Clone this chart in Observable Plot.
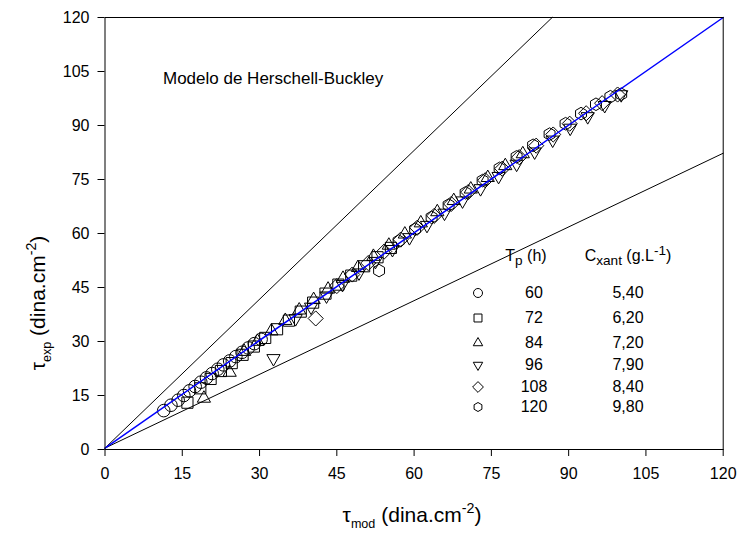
<!DOCTYPE html>
<html><head><meta charset="utf-8">
<script src="https://cdn.jsdelivr.net/npm/d3@7"></script>
<script src="https://cdn.jsdelivr.net/npm/@observablehq/plot@0.6"></script>
<style>
body{margin:0;background:#fff;font-family:"Liberation Sans",Arial,sans-serif;}
#wrap{position:relative;width:738px;height:535px;overflow:hidden;}
.lbl{position:absolute;white-space:nowrap;color:#000;line-height:1;}
.c{transform:translate(-50%,-50%);}
.sub{font-size:62%;position:relative;top:0.45em;}
.sup{font-size:62%;position:relative;top:-0.6em;}
</style></head><body><div id="wrap"></div>
<script>
// ---- data ----
const xTicks = [0, 15, 30, 45, 60, 75, 90, 105, 120];
const yTicks = [0, 15, 30, 45, 60, 75, 90, 105, 120];

const tp = ["60", "72", "84", "96", "108", "120"];
const cxant = ["5,40", "6,20", "7,20", "7,90", "8,40", "9,80"];

const s60x = [11.4, 12.8, 14.2, 15.3, 16.4, 17.5, 18.6, 19.7, 20.8, 21.9, 23.0, 24.2, 25.4, 26.6, 27.8, 29.0, 30.3];
const s60y = [10.8, 12.3, 13.7, 15.0, 16.3, 17.5, 18.7, 19.9, 21.1, 22.3, 23.5, 24.6, 25.8, 27.0, 28.2, 29.4, 30.6];

const s72x = [16.0, 18.5, 20.5, 22.5, 24.6, 26.7, 28.9, 31.1, 33.4, 35.7, 38.0, 40.4, 42.8, 45.3, 47.8, 50.3, 52.9, 55.5];
const s72y = [13.0, 17.0, 19.6, 21.8, 24.0, 26.3, 28.6, 31.0, 33.4, 35.8, 38.3, 40.8, 43.3, 45.8, 48.3, 50.9, 53.4, 56.0];

const s84x = [19.2, 24.2, 27.0, 29.6, 32.3, 35.0, 37.7, 40.5, 43.3, 46.2, 49.1, 52.1, 55.1, 58.2, 61.3, 64.5, 67.7, 71.0, 74.3, 77.7, 81.1];
const s84y = [14.2, 21.4, 27.2, 30.0, 32.9, 35.8, 38.7, 41.6, 44.5, 47.5, 50.5, 53.6, 56.7, 59.8, 62.9, 66.0, 69.1, 72.3, 75.5, 78.8, 82.1];

const s96x = [32.7, 37.0, 40.0, 43.0, 46.1, 49.3, 52.5, 55.8, 59.1, 62.5, 65.9, 69.4, 72.9, 76.4, 79.9, 83.4, 86.9, 90.3, 93.7, 97.0, 100.2];
const s96y = [25.3, 36.4, 39.6, 42.7, 45.9, 49.1, 52.3, 55.6, 58.9, 62.3, 65.7, 69.1, 72.5, 75.9, 79.3, 82.7, 86.0, 89.3, 92.5, 95.6, 98.6];

const s108x = [40.9, 45.0, 48.0, 51.1, 54.2, 57.4, 60.6, 63.9, 67.2, 70.5, 73.8, 77.1, 80.4, 83.7, 87.0, 90.2, 93.4, 96.5, 99.5];
const s108y = [36.4, 45.4, 48.6, 51.8, 55.0, 58.3, 61.6, 64.9, 68.2, 71.5, 74.8, 78.0, 81.2, 84.4, 87.5, 90.5, 93.4, 96.2, 98.6];

const s120x = [53.2, 57.0, 60.2, 63.4, 66.7, 70.0, 73.3, 76.6, 79.9, 83.1, 86.3, 89.4, 92.4, 95.3, 98.1, 100.2];
const s120y = [49.7, 57.9, 61.2, 64.5, 67.9, 71.3, 74.7, 78.1, 81.3, 84.5, 87.6, 90.5, 93.3, 95.9, 98.0, 98.7];

// fitted line (blue) and the two limit lines (black)
const fitX = [0, 120], fitY = [0.4, 120];
const upX = [0, 86.8], upY = [0.4, 120];
const loX = [0, 120], loY = [0.4, 82.3];

// ---- symbols ----
const rad = s => Math.sqrt(s / Math.PI);
const symCircle = {draw(c, s){const r = rad(s); c.moveTo(r, 0); c.arc(0, 0, r, 0, 2*Math.PI);}};
const symSquare = {draw(c, s){const h = rad(s)*0.885; c.rect(-h, -h, 2*h, 2*h);}};
const symTriUp = {draw(c, s){const a = rad(s)*2.1, h = a*0.866; c.moveTo(0, -2*h/3); c.lineTo(a/2, h/3); c.lineTo(-a/2, h/3); c.closePath();}};
const symTriDown = {draw(c, s){const a = rad(s)*2.1, h = a*0.866; c.moveTo(0, 2*h/3); c.lineTo(a/2, -h/3); c.lineTo(-a/2, -h/3); c.closePath();}};
const symDiamond = {draw(c, s){const d = rad(s)*1.2; c.moveTo(0, -d); c.lineTo(d, 0); c.lineTo(0, d); c.lineTo(-d, 0); c.closePath();}};
const symHex = {draw(c, s){const R = rad(s)*1.0; for (let k = 0; k < 6; k++){const t = -Math.PI/2 + k*Math.PI/3; const x = R*Math.cos(t), y = R*Math.sin(t); k ? c.lineTo(x, y) : c.moveTo(x, y);} c.closePath();}};

const series = [
  {x: s60x, y: s60y, sym: symCircle},
  {x: s72x, y: s72y, sym: symSquare},
  {x: s84x, y: s84y, sym: symTriUp},
  {x: s96x, y: s96y, sym: symTriDown},
  {x: s108x, y: s108y, sym: symDiamond},
  {x: s120x, y: s120y, sym: symHex}
];

const toRows = (xs, ys) => xs.map((x, i) => ({x, y: ys[i]}));

const dotMarks = series.map(s => Plot.dot(toRows(s.x, s.y), {
  x: "x", y: "y", r: 6.3, symbol: s.sym, stroke: "#000", strokeWidth: 1, fill: "none"
}));

const plot = Plot.plot({
  width: 738, height: 535,
  marginLeft: 104.5, marginRight: 15.3, marginTop: 17, marginBottom: 86,
  style: {fontFamily: "'Liberation Sans', Arial, sans-serif", fontSize: "16px", background: "white", color: "black", overflow: "visible"},
  x: {domain: [0, 120]},
  y: {domain: [0, 120]},
  marks: [
    ...dotMarks,
    Plot.line(toRows(upX, upY), {x: "x", y: "y", stroke: "#000", strokeWidth: 1}),
    Plot.line(toRows(loX, loY), {x: "x", y: "y", stroke: "#000", strokeWidth: 1}),
    Plot.line(toRows(fitX, fitY), {x: "x", y: "y", stroke: "#0000ff", strokeWidth: 1.5}),
    Plot.frame({stroke: "#000", strokeWidth: 1}),
    Plot.axisX({ticks: xTicks, tickSize: 7, tickPadding: 11, label: null, tickFormat: d => String(d), stroke: "#000"}),
    Plot.axisY({ticks: yTicks, tickSize: 7, tickPadding: 8.5, label: null, tickFormat: d => String(d), stroke: "#000"}),
    Plot.text(["Modelo de Herschell-Buckley"], {frameAnchor: "top-left", dx: 58, dy: 61, textAnchor: "start", lineAnchor: "middle", fontSize: 17, fill: "#000"})
  ]
});

const wrap = document.getElementById("wrap");
wrap.appendChild(plot);

function addLabel(html, left, top, size){
  const d = document.createElement("div");
  d.className = "lbl c";
  d.style.left = left + "px"; d.style.top = top + "px";
  d.style.fontSize = size + "px";
  d.innerHTML = html;
  wrap.appendChild(d);
  return d;
}

// axis titles
addLabel('τ<span class="sub" style="font-size:60%">mod</span> (dina.cm<span class="sup" style="font-size:68%">-2</span>)', 412, 514, 21);
const yl = addLabel('τ<span class="sub" style="font-size:60%">exp</span> (dina.cm<span class="sup" style="font-size:68%">-2</span>)', 37, 303, 21);
yl.style.transform = "translate(-50%,-50%) rotate(-90deg)";

// legend
addLabel('T<span class="sub" style="font-size:85%;top:0.3em">p</span> (h)', 526, 256, 16);
addLabel('C<span class="sub" style="font-size:85%;top:0.3em">xant</span> (g.L<span class="sup" style="font-size:85%;top:-0.45em">-1</span>)', 628, 256, 16);
const rowY = [293, 318, 343, 365, 387, 407];
const legSyms = [symCircle, symSquare, symTriUp, symTriDown, symDiamond, symHex];
tp.forEach((t, i) => {
  addLabel(t, 534, rowY[i], 16);
  addLabel(cxant[i], 628, rowY[i], 16);
  const svg = d3.create("svg").attr("width", 16).attr("height", 16)
    .style("position", "absolute").style("left", (478 - 8) + "px").style("top", (rowY[i] - 8) + "px");
  svg.append("path").attr("transform", "translate(8,8)")
    .attr("d", d3.symbol().type(legSyms[i]).size(Math.PI * 4.5 * 4.5)())
    .attr("fill", "none").attr("stroke", "#000").attr("stroke-width", 1);
  wrap.appendChild(svg.node());
});
</script>
</body></html>
